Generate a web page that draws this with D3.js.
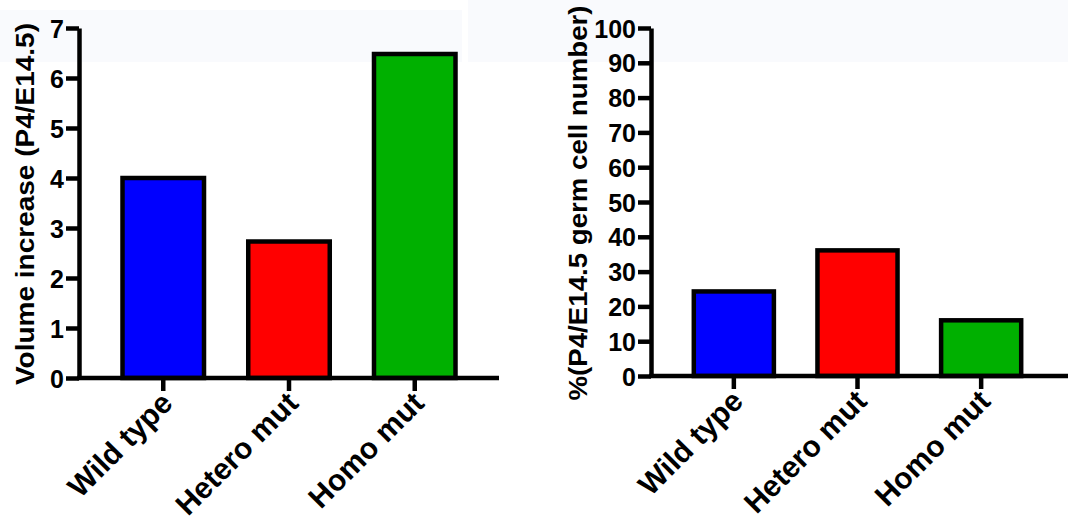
<!DOCTYPE html>
<html>
<head>
<meta charset="utf-8">
<script src="https://cdn.jsdelivr.net/npm/d3@7"></script>
<style>
html,body{margin:0;padding:0;background:#fff;}
svg{display:block;}
text{font-family:"Liberation Sans",Arial,Helvetica,sans-serif;font-weight:bold;fill:#000;}
</style>
</head>
<body>
<svg id="chart" width="1068" height="524"></svg>
<script>
// ---- data ----
const categories = ["Wild type", "Hetero mut", "Homo mut"];
const barColors = ["#0000ff", "#ff0000", "#00b000"];
const volumeValues = [4.0, 2.73, 6.48];
const germCellValues = [24.3, 36.1, 16.0];
const volumeTicks = [0, 1, 2, 3, 4, 5, 6, 7];
const germCellTicks = [0, 10, 20, 30, 40, 50, 60, 70, 80, 90, 100];
const volumeTitle = "Volume increase (P4/E14.5)";
const germCellTitle = "%(P4/E14.5 germ cell number)";

const svg = d3.select("#chart");

// faint background tint seen in the reference
svg.append("rect").attr("x", 0).attr("y", 10).attr("width", 462).attr("height", 52).attr("fill", "#f9fafd");
svg.append("rect").attr("x", 468).attr("y", 0).attr("width", 600).attr("height", 62).attr("fill", "#f9fafd");

function drawPanel(cfg) {
  const g = svg.append("g");
  const x = d3.scaleBand().domain(categories).range([cfg.x0, cfg.x1])
    .paddingInner(0.32).paddingOuter(0.33);
  const y = d3.scaleLinear().domain(cfg.domain).range([cfg.yBottom, cfg.yTop]);

  // bars
  g.selectAll("rect.bar").data(cfg.values).enter().append("rect")
    .attr("class", "bar")
    .attr("x", (d, i) => x(categories[i]) + 2)
    .attr("width", x.bandwidth() - 4)
    .attr("y", d => y(d))
    .attr("height", d => y(0) - y(d))
    .attr("fill", (d, i) => barColors[i])
    .attr("stroke", "#000")
    .attr("stroke-width", 4.5);

  // y axis
  const yAxis = d3.axisLeft(y).tickValues(cfg.ticks).tickFormat(d3.format("d"))
    .tickSize(13).tickPadding(2).tickSizeOuter(0);
  const ya = g.append("g").attr("transform", `translate(${cfg.x0},0)`).call(yAxis);
  ya.select(".domain").attr("stroke", "#000").attr("stroke-width", 4.5);
  ya.selectAll(".tick line").attr("stroke", "#000").attr("stroke-width", 4.5);
  ya.selectAll(".tick text").style("font-size", "25px").attr("dy", "0.36em");

  // x axis
  const xAxis = d3.axisBottom(x).tickSize(13).tickSizeOuter(0).tickFormat("");
  const xa = g.append("g").attr("transform", `translate(0,${cfg.yBottom})`).call(xAxis);
  xa.select(".domain").attr("d", `M${cfg.x0 - 2},0H${cfg.axisEnd}`)
    .attr("stroke", "#000").attr("stroke-width", 4.5);
  xa.selectAll(".tick line").attr("stroke", "#000").attr("stroke-width", 4.5);

  // rotated category labels
  g.selectAll("text.cat").data(categories).enter().append("text")
    .attr("class", "cat")
    .attr("text-anchor", "end")
    .style("font-size", "30px")
    .attr("transform", d => `translate(${x(d) + x.bandwidth() / 2 + 11},${cfg.yBottom + 27}) rotate(-45)`)
    .text(d => d);

  // y title
  g.append("text")
    .attr("text-anchor", "middle")
    .style("font-size", "26px")
    .attr("transform", `translate(${cfg.titleX},${cfg.titleY}) rotate(-90)`)
    .attr("textLength", cfg.titleLen)
    .attr("lengthAdjust", "spacingAndGlyphs")
    .text(cfg.title);
}

drawPanel({
  values: volumeValues, ticks: volumeTicks, domain: [0, 7],
  x0: 79, x1: 499, axisEnd: 499, yBottom: 378, yTop: 28,
  title: volumeTitle, titleX: 34, titleY: 204, titleLen: 362
});

drawPanel({
  values: germCellValues, ticks: germCellTicks, domain: [0, 100],
  x0: 651, x1: 1064, axisEnd: 1068, yBottom: 376, yTop: 28,
  title: germCellTitle, titleX: 587, titleY: 203, titleLen: 395
});
</script>
</body>
</html>
